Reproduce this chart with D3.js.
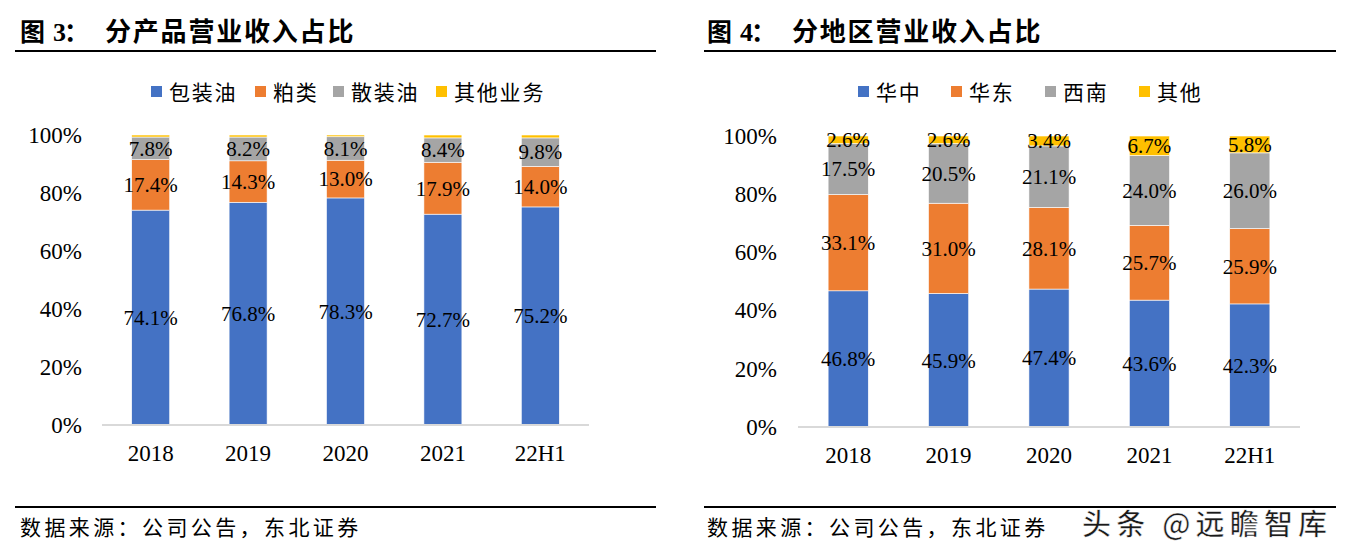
<!DOCTYPE html>
<html><head><meta charset="utf-8">
<script src="https://cdn.jsdelivr.net/npm/d3@7"></script>
<style>
html,body{margin:0;padding:0;background:#fff;}
svg{display:block;}
</style></head>
<body>
<svg id="c" width="1345" height="560"></svg>
<script>
// ---- Data ----
const categories = ["2018", "2019", "2020", "2021", "22H1"];
const yTicks = [0, 20, 40, 60, 80, 100];

// Chart 1: by product
const productSeries = ["包装油", "粕类", "散装油", "其他业务"];
const packagedOil = [74.1, 76.8, 78.3, 72.7, 75.2];
const mealProducts = [17.4, 14.3, 13.0, 17.9, 14.0];
const bulkOil = [7.8, 8.2, 8.1, 8.4, 9.8];
const otherBusiness = [0.7, 0.7, 0.6, 1.0, 1.0];

// Chart 2: by region
const regionSeries = ["华中", "华东", "西南", "其他"];
const central = [46.8, 45.9, 47.4, 43.6, 42.3];
const east = [33.1, 31.0, 28.1, 25.7, 25.9];
const southwest = [17.5, 20.5, 21.1, 24.0, 26.0];
const otherRegion = [2.6, 2.6, 3.4, 6.7, 5.8];

const colors = ["#4472C4", "#ED7D31", "#A5A5A5", "#FFC000"];

const svg = d3.select("#c");
const SERIF = "'Liberation Serif','Times New Roman',serif";
const CJK = "'Noto Sans CJK SC','Noto Sans CJK JP',sans-serif";

function drawChart(cfg) {
  const g = svg.append("g");
  // Title
  const tx = cfg.titleX;
  g.append("text").attr("x", tx).attr("y", 41).attr("font-family", CJK)
    .attr("font-size", 25).attr("font-weight", "bold").attr("fill", "#000").text("图");
  g.append("text").attr("x", tx + 33).attr("y", 41).attr("font-family", SERIF)
    .attr("font-size", 26).attr("font-weight", "bold").attr("fill", "#000").text(cfg.num);
  g.append("text").attr("x", tx + 44).attr("y", 41).attr("font-family", CJK)
    .attr("font-size", 25).attr("font-weight", "bold").attr("fill", "#000").text("：");
  g.append("text").attr("x", tx + 85).attr("y", 41).attr("font-family", CJK)
    .attr("font-size", 26).attr("font-weight", "bold").attr("letter-spacing", 1.8).attr("fill", "#000").text(cfg.title);
  // title rule
  g.append("line").attr("x1", cfg.ruleX1).attr("x2", cfg.ruleX2).attr("y1", 51).attr("y2", 51)
    .attr("stroke", "#000").attr("stroke-width", 2);
  // footer rule
  g.append("line").attr("x1", cfg.ruleX1).attr("x2", cfg.ruleX2).attr("y1", 507).attr("y2", 507)
    .attr("stroke", "#000").attr("stroke-width", 2);
  g.append("text").attr("x", tx).attr("y", 535).attr("font-family", CJK)
    .attr("font-size", 21).attr("letter-spacing", 3.4).attr("fill", "#000").text("数据来源：公司公告，东北证券");

  // Legend
  cfg.series.forEach((s, i) => {
    const lx = cfg.legendX[i];
    g.append("rect").attr("x", lx).attr("y", 86).attr("width", 11).attr("height", 11).attr("fill", colors[i]);
    g.append("text").attr("x", lx + 18).attr("y", 100).attr("font-family", CJK)
      .attr("font-size", 21).attr("letter-spacing", 1.8).attr("fill", "#000").text(s);
  });

  const x = d3.scaleBand().domain(categories).range([cfg.x0, cfg.x1]).paddingInner(cfg.pad).paddingOuter(cfg.pad / 2);
  const y = d3.scaleLinear().domain([0, 100]).range([cfg.yBottom, cfg.yTop]);

  // Y axis labels
  const yAxis = d3.axisLeft(y).tickValues(yTicks).tickFormat(d => d + "%").tickSize(0).tickPadding(0);
  const ya = g.append("g").attr("transform", `translate(${cfg.yLabelX},0)`).call(yAxis);
  ya.select(".domain").remove();
  ya.selectAll("text").attr("font-family", SERIF).attr("font-size", 23).attr("fill", "#000");

  // stacked data
  const rows = categories.map((c, i) => {
    const o = {cat: c};
    cfg.series.forEach((s, k) => o[s] = cfg.values[k][i]);
    return o;
  });
  const stacked = d3.stack().keys(cfg.series)(rows);

  stacked.forEach((layer, k) => {
    g.append("g").selectAll("rect").data(layer).join("rect")
      .attr("x", d => x(d.data.cat))
      .attr("width", x.bandwidth())
      .attr("y", d => y(d[1]))
      .attr("height", d => y(d[0]) - y(d[1]))
      .attr("fill", colors[k])
      .attr("stroke", "#fff").attr("stroke-width", 0.6);
  });

  // X axis
  const xAxis = d3.axisBottom(x).tickSize(0).tickPadding(0);
  const xa = g.append("g").attr("transform", `translate(0,${cfg.yBottom})`).call(xAxis);
  xa.select(".domain").remove();
  xa.selectAll("text").attr("font-family", SERIF).attr("font-size", 23).attr("fill", "#000").attr("dy", 0).attr("y", cfg.xLabelDy);
  g.append("line").attr("x1", cfg.x0).attr("x2", cfg.axisX2).attr("y1", cfg.yBottom).attr("y2", cfg.yBottom)
    .attr("stroke", "#D9D9D9").attr("stroke-width", 2);

  // data labels
  stacked.forEach((layer, k) => {
    if (!cfg.labelSeries[k]) return;
    g.append("g").selectAll("text").data(layer).join("text")
      .attr("x", d => x(d.data.cat) + x.bandwidth() / 2)
      .attr("y", d => (y(d[0]) + y(d[1])) / 2)
      .attr("dy", "0.35em")
      .attr("text-anchor", "middle")
      .attr("font-family", SERIF).attr("font-size", 21).attr("fill", "#000")
      .text(d => (d[1] - d[0]).toFixed(1) + "%");
  });
}

drawChart({
  num: "3", title: "分产品营业收入占比", titleX: 20, ruleX1: 15, ruleX2: 656,
  series: productSeries, values: [packagedOil, mealProducts, bulkOil, otherBusiness],
  labelSeries: [true, true, true, false],
  legendX: [151, 255, 333, 436],
  x0: 102, x1: 589, axisX2: 589, pad: 0.61, yTop: 135, yBottom: 425, yLabelX: 82, xLabelDy: 36
});
drawChart({
  num: "4", title: "分地区营业收入占比", titleX: 707, ruleX1: 704, ruleX2: 1336,
  series: regionSeries, values: [central, east, southwest, otherRegion],
  labelSeries: [true, true, true, true],
  legendX: [858, 951, 1045, 1139],
  x0: 798, x1: 1300, axisX2: 1300, pad: 0.6, yTop: 136, yBottom: 427, yLabelX: 777, xLabelDy: 36
});

// watermark
svg.append("text").attr("x", 1082).attr("y", 535)
  .attr("font-family", CJK).attr("font-size", 29).attr("font-weight", 500).attr("letter-spacing", 5.2).attr("fill", "#1a1a1a")
  .attr("stroke", "#fff").attr("stroke-width", 0.5)
  .text("头条 @远瞻智库");
</script>
</body></html>
